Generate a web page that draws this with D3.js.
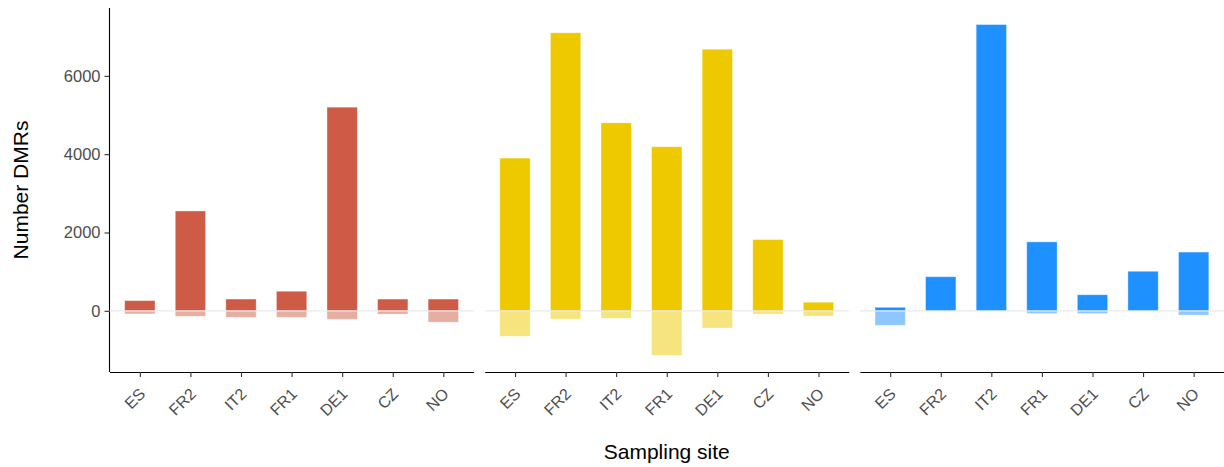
<!DOCTYPE html>
<html>
<head>
<meta charset="utf-8">
<script src="https://cdn.jsdelivr.net/npm/d3@7"></script>
<style>
  body { margin: 0; background: #fff; }
  text { font-family: "Liberation Sans", Arial, sans-serif; }
</style>
</head>
<body>
<script>
// sampling sites, same order in every panel
let sites = ["ES", "FR2", "IT2", "FR1", "DE1", "CZ", "NO"];
let panelColors = ["#CD5B45", "#EEC900", "#1E90FF"];
// DMR counts (positive = above zero, negative = below)
let upPanel1 = [260, 2550, 300, 500, 5200, 300, 300];
let downPanel1 = [-80, -140, -165, -165, -215, -85, -290];
let upPanel2 = [3900, 7100, 4800, 4190, 6680, 1820, 220];
let downPanel2 = [-650, -210, -190, -1140, -440, -85, -135];
let upPanel3 = [90, 870, 7310, 1760, 410, 1010, 1500];
let downPanel3 = [-370, 0, 0, -70, -70, 0, -110];
let yTicks = [0, 2000, 4000, 6000];

let width = 1224, height = 467;
let margin = {top: 8, bottom: 95, left: 109.5, right: 0};
let gap = 11;
let panelW = (width - margin.left - margin.right - 2 * gap) / 3;
let plotBottom = height - margin.bottom;

let panels = [
  {up: upPanel1, down: downPanel1, color: panelColors[0]},
  {up: upPanel2, down: downPanel2, color: panelColors[1]},
  {up: upPanel3, down: downPanel3, color: panelColors[2]}
];

let svg = d3.select("body").append("svg").attr("width", width).attr("height", height);

// ggplot-like 5% expansion of the data range
let allVals = panels.flatMap(p => [...p.up, ...p.down]);
let lo = d3.min(allVals), hi = d3.max(allVals);
let pad = (hi - lo) * 0.05;
let y = d3.scaleLinear().domain([lo - pad, hi + pad]).range([plotBottom, margin.top]);

// y axis
let yAxis = svg.append("g").attr("transform", `translate(${margin.left},0)`)
  .call(d3.axisLeft(y).tickValues(yTicks).tickSize(5).tickPadding(4).tickFormat(d3.format("d")));
yAxis.select(".domain").attr("stroke", "#000").attr("stroke-width", 1.1).attr("d", `M0,${margin.top}V${plotBottom}`);
yAxis.selectAll(".tick line").attr("stroke", "#333").attr("stroke-width", 1.1);
yAxis.selectAll(".tick text").attr("fill", "#4D4D4D").style("font-size", "16.5px");

panels.forEach((p, i) => {
  let x0 = margin.left + i * (panelW + gap);
  let x = d3.scalePoint().domain(sites).range([0, panelW]).padding(0.6);
  let bw = x.step() * 0.6;
  let g = svg.append("g").attr("transform", `translate(${x0},0)`);

  // negative (lighter) bars
  g.selectAll(".down").data(sites).join("rect")
    .attr("x", d => x(d) - bw / 2)
    .attr("y", y(0))
    .attr("width", bw)
    .attr("height", (d, j) => y(p.down[j]) - y(0))
    .attr("fill", p.color).attr("fill-opacity", 0.5)
    .attr("stroke", "#fff").attr("stroke-opacity", 0.45).attr("stroke-width", 0.8);

  // positive bars
  g.selectAll(".up").data(sites).join("rect")
    .attr("x", d => x(d) - bw / 2)
    .attr("y", (d, j) => y(p.up[j]))
    .attr("width", bw)
    .attr("height", (d, j) => y(0) - y(p.up[j]))
    .attr("fill", p.color)
    .attr("stroke", "#fff").attr("stroke-opacity", 0.45).attr("stroke-width", 0.8);

  // zero line
  g.append("line").attr("x1", 0).attr("x2", panelW).attr("y1", y(0)).attr("y2", y(0))
    .attr("stroke", "#E5E5E5").attr("stroke-width", 1.3).attr("stroke-opacity", 0.85);

  // x axis
  let xa = g.append("g").attr("transform", `translate(0,${plotBottom})`)
    .call(d3.axisBottom(x).tickSize(5).tickSizeOuter(0));
  xa.select(".domain").attr("stroke", "#000").attr("stroke-width", 1.1);
  xa.selectAll(".tick line").attr("stroke", "#333").attr("stroke-width", 1.1);
  xa.selectAll(".tick text")
    .attr("fill", "#4D4D4D").style("font-size", "16px")
    .attr("text-anchor", "end")
    .attr("y", 0).attr("dy", 0)
    .attr("transform", "translate(6,23) rotate(-45)");
});

// axis titles
svg.append("text")
  .attr("transform", `translate(28,${(margin.top + plotBottom) / 2}) rotate(-90)`)
  .attr("text-anchor", "middle").style("font-size", "21px").attr("fill", "#000")
  .text("Number DMRs");

svg.append("text")
  .attr("x", margin.left + (width - margin.left) / 2).attr("y", 459)
  .attr("text-anchor", "middle").style("font-size", "21px").attr("fill", "#000")
  .text("Sampling site");
</script>
</body>
</html>
